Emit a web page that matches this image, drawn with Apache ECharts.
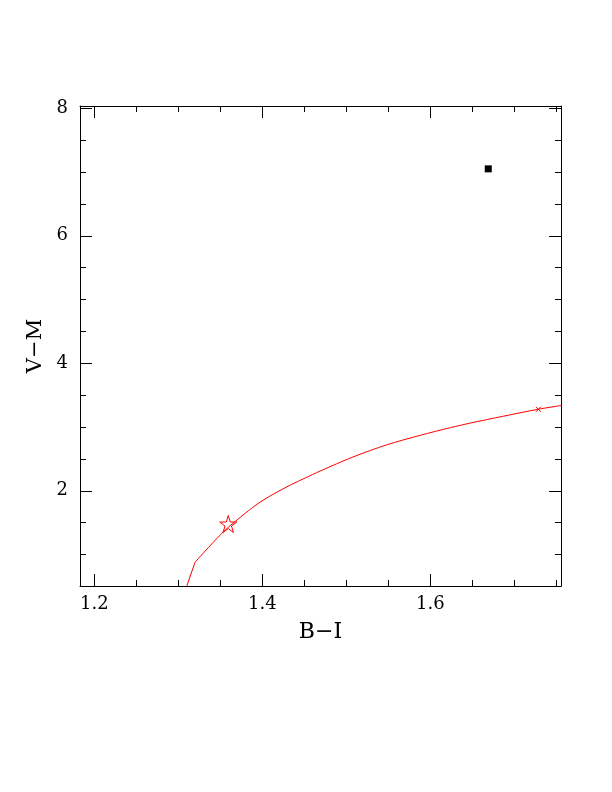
<!DOCTYPE html>
<html>
<head>
<meta charset="utf-8">
<script src="https://cdn.jsdelivr.net/npm/echarts@6/dist/echarts.min.js"></script>
<style>html,body{margin:0;padding:0;background:#fff;}#c{width:612px;height:792px;}</style>
</head>
<body>
<div id="c"></div>
<script>
// ---- data ----
const xMajorTicks = [1.2, 1.4, 1.6];
const xMinorTicks = [1.2, 1.25, 1.3, 1.35, 1.4, 1.45, 1.5, 1.55, 1.6, 1.65, 1.7, 1.75];
const yMajorTicks = [2, 4, 6, 8];
const yMinorTicks = [1, 1.5, 2, 2.5, 3, 3.5, 4, 4.5, 5, 5.5, 6, 6.5, 7, 7.5, 8];
// lower segment (straight part below the kink)
const lowX = [1.310, 1.320];
const lowY = [0.50, 0.88];
// upper curved branch
const curveX = [1.320, 1.354, 1.380, 1.395, 1.407, 1.419, 1.435, 1.451, 1.469, 1.508, 1.548, 1.588, 1.624, 1.647, 1.687, 1.729, 1.757];
const curveY = [0.88, 1.36, 1.65, 1.80, 1.90, 1.99, 2.10, 2.20, 2.31, 2.53, 2.72, 2.87, 2.99, 3.06, 3.17, 3.28, 3.34];
const starPoint = [1.3595, 1.478];
const crossPoint = [1.7286, 3.278];
const squarePoint = [1.669, 7.05];
const xRange = [1.183, 1.7556];
const yRange = [0.506, 8.036];
const xTitle = 'B\u2212I';
const yTitle = 'V\u2212M';

// ---- chart ----
const FONT = 'DejaVu Serif';
const gridRect = {left: 80, right: 51, top: 106, bottom: 206, containLabel: false};

function xAx(gridIndex, position, ticks, len, labels, showLine, name) {
  return {
    type: 'value', gridIndex, position, min: xRange[0], max: xRange[1],
    axisLine: {show: showLine, onZero: false, lineStyle: {color: '#000', width: 1}},
    axisTick: {show: true, inside: true, length: len, customValues: ticks, lineStyle: {color: '#000', width: 1}},
    axisLabel: labels ? {show: true, customValues: labels, formatter: v => Number(v).toFixed(1), color: '#000', fontFamily: FONT, fontSize: 18, margin: 9} : {show: false},
    splitLine: {show: false},
    name: name || '', nameLocation: 'middle', nameGap: 35,
    nameTextStyle: {color: '#000', fontFamily: FONT, fontSize: 22}
  };
}
function yAx(gridIndex, position, ticks, len, labels, showLine, name) {
  return {
    type: 'value', gridIndex, position, min: yRange[0], max: yRange[1],
    axisLine: {show: showLine, onZero: false, lineStyle: {color: '#000', width: 1}},
    axisTick: {show: true, inside: true, length: len, customValues: ticks, lineStyle: {color: '#000', width: 1}},
    axisLabel: labels ? {show: true, customValues: labels, formatter: v => String(Math.round(v)), color: '#000', fontFamily: FONT, fontSize: 18, margin: 12} : {show: false},
    splitLine: {show: false},
    name: name || '', nameLocation: 'middle', nameGap: 30,
    nameTextStyle: {color: '#000', fontFamily: FONT, fontSize: 21}
  };
}

const lowData = lowX.map((x, i) => [x, lowY[i]]);
const curveData = curveX.map((x, i) => [x, curveY[i]]);
const starPath = 'path://M0,-1L0.2245,-0.309L0.9511,-0.309L0.3633,0.118L0.5878,0.809L0,0.382L-0.5878,0.809L-0.3633,0.118L-0.9511,-0.309L-0.2245,-0.309Z';

const chart = echarts.init(document.getElementById('c'), null, {renderer: 'canvas'});
chart.setOption({
  animation: false,
  backgroundColor: '#fff',
  grid: [Object.assign({}, gridRect), Object.assign({}, gridRect)],
  xAxis: [
    xAx(0, 'bottom', xMajorTicks, 12, xMajorTicks, true, xTitle),
    xAx(0, 'top', xMajorTicks, 12, null, true),
    xAx(1, 'bottom', xMinorTicks, 6, null, false),
    xAx(1, 'top', xMinorTicks, 6, null, false)
  ],
  yAxis: [
    yAx(0, 'left', yMajorTicks, 12, yMajorTicks, true, yTitle),
    yAx(0, 'right', yMajorTicks, 12, null, true),
    yAx(1, 'left', yMinorTicks, 6, null, false),
    yAx(1, 'right', yMinorTicks, 6, null, false)
  ],
  series: [
    {
      type: 'line', xAxisIndex: 0, yAxisIndex: 0, data: lowData,
      showSymbol: false, symbol: 'none', clip: true, smooth: false,
      lineStyle: {color: '#ff0000', width: 1}
    },
    {
      type: 'line', xAxisIndex: 0, yAxisIndex: 0, data: curveData,
      showSymbol: false, symbol: 'none', clip: true, smooth: 0.3,
      lineStyle: {color: '#ff0000', width: 1}
    },
    {
      type: 'scatter', xAxisIndex: 0, yAxisIndex: 0, data: [starPoint],
      symbol: starPath, symbolSize: 17,
      itemStyle: {color: 'rgba(0,0,0,0)', borderColor: '#ff0000', borderWidth: 1, opacity: 1}
    },
    {
      type: 'scatter', xAxisIndex: 0, yAxisIndex: 0, data: [crossPoint],
      symbol: 'path://M0,0L1,1M1,0L0,1', symbolSize: 5,
      itemStyle: {color: 'rgba(0,0,0,0)', borderColor: '#ff0000', borderWidth: 1, opacity: 1}
    },
    {
      type: 'scatter', xAxisIndex: 0, yAxisIndex: 0, data: [squarePoint],
      symbol: 'rect', symbolSize: 7,
      itemStyle: {color: '#000', opacity: 1}
    }
  ]
});
</script>
</body>
</html>
